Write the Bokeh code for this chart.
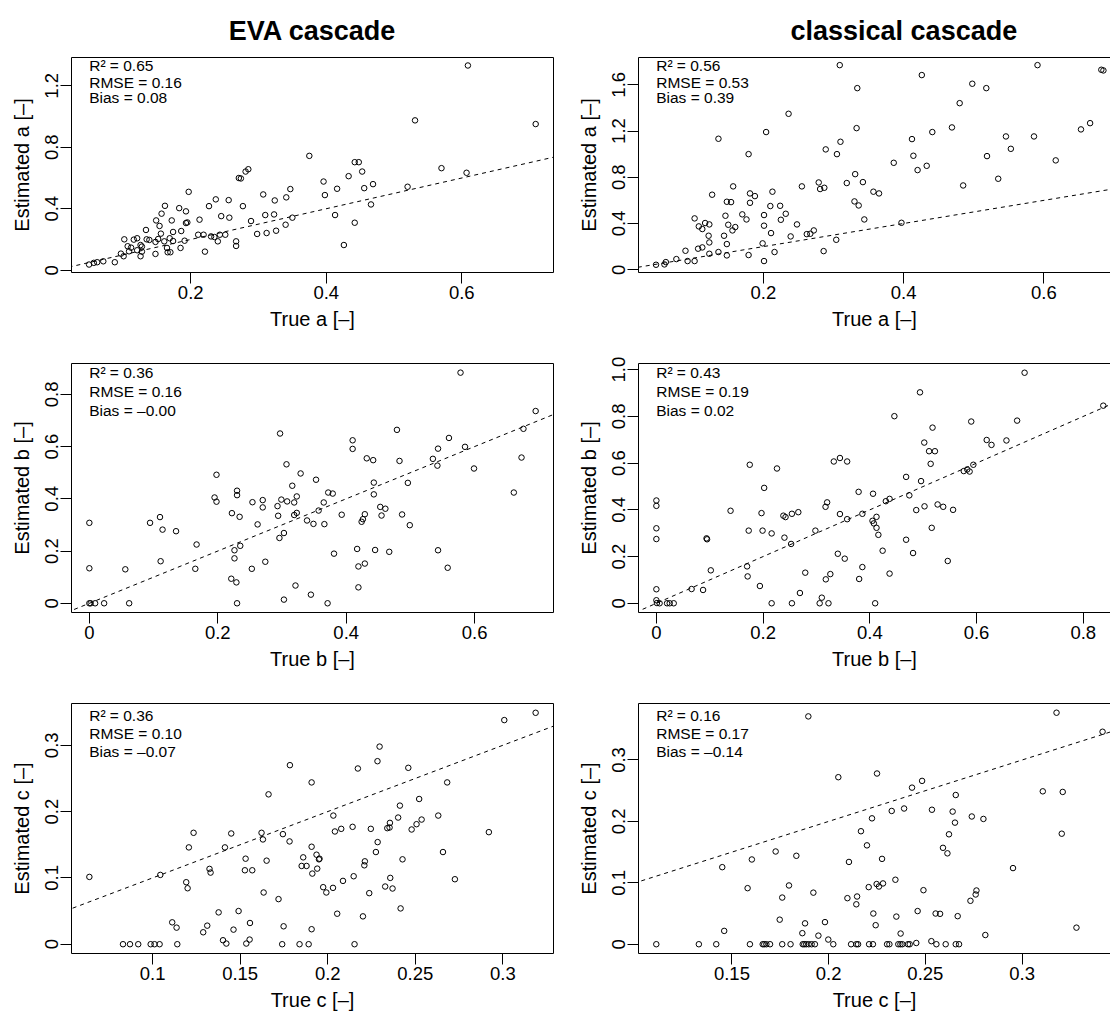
from bokeh.plotting import figure
from bokeh.models import Range1d, FixedTicker, LinearAxis, Slope, Label
from bokeh.layouts import column, row
from bokeh.embed import file_html
from bokeh.resources import INLINE

FONT = "Liberation Sans"

# ---------------- data ----------------
eva_a_true = [0.609, 0.531, 0.709, 0.375, 0.442, 0.448, 0.570, 0.607, 0.453, 0.433, 0.396, 0.469, 0.456, 0.416,
              0.398, 0.520, 0.466, 0.413, 0.442, 0.426, 0.271, 0.274, 0.281, 0.285, 0.197, 0.307, 0.347, 0.341,
              0.324, 0.256, 0.237, 0.227, 0.277, 0.162, 0.183, 0.193, 0.157, 0.245, 0.257, 0.310, 0.323, 0.350,
              0.289, 0.340, 0.326, 0.312, 0.298, 0.213, 0.172, 0.149, 0.193, 0.195, 0.134, 0.154, 0.186, 0.174,
              0.156, 0.211, 0.219, 0.230, 0.235, 0.243, 0.251, 0.240, 0.267, 0.267, 0.191, 0.169, 0.174, 0.161,
              0.148, 0.152, 0.135, 0.139, 0.102, 0.121, 0.116, 0.126, 0.128, 0.107, 0.112, 0.121, 0.128, 0.109,
              0.097, 0.101, 0.126, 0.148, 0.165, 0.166, 0.170, 0.185, 0.221, 0.088, 0.071, 0.062, 0.057, 0.050]
eva_a_est = [1.332, 0.975, 0.951, 0.744, 0.703, 0.703, 0.664, 0.634, 0.642, 0.612, 0.577, 0.560, 0.534, 0.530,
             0.489, 0.543, 0.428, 0.359, 0.309, 0.164, 0.600, 0.597, 0.642, 0.657, 0.510, 0.493, 0.528, 0.474,
             0.454, 0.456, 0.461, 0.417, 0.417, 0.419, 0.404, 0.383, 0.368, 0.352, 0.342, 0.359, 0.363, 0.342,
             0.320, 0.296, 0.257, 0.242, 0.236, 0.329, 0.324, 0.324, 0.307, 0.311, 0.262, 0.288, 0.255, 0.249,
             0.238, 0.231, 0.231, 0.220, 0.216, 0.231, 0.231, 0.188, 0.188, 0.158, 0.192, 0.208, 0.190, 0.188,
             0.184, 0.203, 0.201, 0.197, 0.201, 0.208, 0.199, 0.164, 0.154, 0.156, 0.147, 0.130, 0.121, 0.123,
             0.108, 0.091, 0.091, 0.106, 0.145, 0.117, 0.117, 0.145, 0.121, 0.052, 0.058, 0.052, 0.048, 0.037]

cla_a_true = [0.309, 0.591, 0.682, 0.685, 0.426, 0.498, 0.334, 0.518, 0.480, 0.236, 0.666, 0.653, 0.333, 0.469,
              0.204, 0.441, 0.136, 0.546, 0.586, 0.412, 0.310, 0.553, 0.289, 0.414, 0.519, 0.305, 0.179, 0.617,
              0.386, 0.433, 0.420, 0.535, 0.485, 0.331, 0.342, 0.319, 0.279, 0.281, 0.287, 0.255, 0.157, 0.357,
              0.365, 0.213, 0.127, 0.181, 0.188, 0.148, 0.154, 0.181, 0.330, 0.336, 0.210, 0.224, 0.170, 0.232,
              0.201, 0.146, 0.176, 0.225, 0.102, 0.344, 0.123, 0.117, 0.108, 0.113, 0.150, 0.160, 0.156, 0.201,
              0.248, 0.144, 0.122, 0.211, 0.239, 0.262, 0.267, 0.272, 0.123, 0.148, 0.199, 0.107, 0.113, 0.089,
              0.304, 0.286, 0.216, 0.136, 0.123, 0.148, 0.179, 0.397, 0.092, 0.102, 0.076, 0.061, 0.059, 0.047,
              0.201]
cla_a_est = [1.770, 1.770, 1.730, 1.724, 1.684, 1.609, 1.571, 1.571, 1.441, 1.349, 1.268, 1.214, 1.225, 1.231,
             1.191, 1.191, 1.133, 1.153, 1.153, 1.130, 1.107, 1.046, 1.041, 0.986, 0.983, 1.000, 1.000, 0.946,
             0.925, 0.899, 0.862, 0.787, 0.729, 0.827, 0.758, 0.750, 0.755, 0.698, 0.709, 0.721, 0.721, 0.675,
             0.660, 0.675, 0.649, 0.660, 0.637, 0.588, 0.585, 0.579, 0.591, 0.556, 0.551, 0.553, 0.479, 0.484,
             0.473, 0.467, 0.435, 0.432, 0.444, 0.435, 0.392, 0.404, 0.375, 0.352, 0.389, 0.369, 0.340, 0.381,
             0.392, 0.294, 0.294, 0.317, 0.288, 0.308, 0.311, 0.340, 0.236, 0.222, 0.228, 0.182, 0.193, 0.164,
             0.259, 0.161, 0.153, 0.153, 0.138, 0.124, 0.127, 0.406, 0.075, 0.075, 0.092, 0.066, 0.046, 0.043,
             0.075]

eva_b_true = [0.578, 0.695, 0.676, 0.673, 0.661, 0.599, 0.585, 0.560, 0.543, 0.535, 0.542, 0.479, 0.483, 0.496,
              0.410, 0.410, 0.432, 0.442, 0.443, 0.443, 0.453, 0.461, 0.455, 0.487, 0.499, 0.429, 0.426, 0.424,
              0.393, 0.543, 0.558, 0.417, 0.445, 0.467, 0.429, 0.419, 0.419, 0.381, 0.371, 0.353, 0.329, 0.307,
              0.297, 0.316, 0.323, 0.319, 0.308, 0.299, 0.293, 0.323, 0.319, 0.294, 0.339, 0.349, 0.357, 0.365,
              0.372, 0.379, 0.366, 0.303, 0.296, 0.274, 0.253, 0.262, 0.270, 0.270, 0.254, 0.230, 0.230, 0.234,
              0.222, 0.198, 0.195, 0.198, 0.235, 0.226, 0.226, 0.221, 0.229, 0.230, 0.321, 0.303, 0.345, 0.110,
              0.0945, 0.114, 0.135, 0.167, 0.165, 0.111, 0.056, 0.062, 0.023, 0.009, 0.000, 0.002, 0.000, 0.000]
eva_b_est = [0.883, 0.736, 0.668, 0.558, 0.424, 0.516, 0.599, 0.633, 0.592, 0.553, 0.527, 0.664, 0.545, 0.461,
             0.624, 0.591, 0.555, 0.548, 0.462, 0.417, 0.369, 0.362, 0.336, 0.340, 0.299, 0.341, 0.322, 0.312,
             0.339, 0.203, 0.136, 0.208, 0.204, 0.197, 0.152, 0.141, 0.061, 0.190, 0.000, 0.473, 0.497, 0.532,
             0.650, 0.450, 0.409, 0.386, 0.390, 0.397, 0.372, 0.346, 0.338, 0.335, 0.317, 0.304, 0.355, 0.386,
             0.424, 0.420, 0.303, 0.269, 0.250, 0.159, 0.132, 0.302, 0.395, 0.367, 0.387, 0.431, 0.414, 0.331,
             0.345, 0.492, 0.405, 0.389, 0.220, 0.203, 0.172, 0.094, 0.080, 0.000, 0.068, 0.014, 0.033, 0.330,
             0.308, 0.282, 0.276, 0.225, 0.132, 0.161, 0.130, 0.000, 0.000, 0.000, 0.000, 0.000, 0.308, 0.134]

cla_b_true = [0.690, 0.494, 0.446, 0.8375, 0.676, 0.590, 0.5175, 0.619, 0.628, 0.656, 0.502, 0.511, 0.522, 0.514,
              0.594, 0.576, 0.5825, 0.587, 0.468, 0.496, 0.474, 0.5025, 0.487, 0.527, 0.5375, 0.556, 0.516, 0.546,
              0.468, 0.481, 0.437, 0.430, 0.437, 0.406, 0.379, 0.386, 0.3575, 0.344, 0.3325, 0.344, 0.3575, 0.320,
              0.317, 0.4125, 0.405, 0.4075, 0.4125, 0.416, 0.424, 0.386, 0.380, 0.410, 0.340, 0.353, 0.326, 0.3175,
              0.310, 0.306, 0.3225, 0.298, 0.279, 0.269, 0.254, 0.216, 0.266, 0.254, 0.238, 0.242, 0.2525, 0.240,
              0.216, 0.199, 0.197, 0.202, 0.226, 0.175, 0.173, 0.139, 0.170, 0.171, 0.194, 0.102, 0.094, 0.095,
              0.0875, 0.066, 0.000, 0.000, 0.000, 0.000, 0.000, 0.000, 0.001, 0.006, 0.020, 0.025, 0.0325]
cla_b_est = [0.987, 0.903, 0.801, 0.846, 0.782, 0.778, 0.752, 0.699, 0.678, 0.697, 0.688, 0.651, 0.651, 0.597,
             0.593, 0.566, 0.573, 0.564, 0.541, 0.523, 0.462, 0.415, 0.399, 0.423, 0.413, 0.400, 0.323, 0.181,
             0.272, 0.215, 0.127, 0.437, 0.447, 0.469, 0.477, 0.383, 0.360, 0.382, 0.607, 0.622, 0.607, 0.432,
             0.413, 0.370, 0.353, 0.342, 0.323, 0.293, 0.225, 0.155, 0.104, 0.000, 0.212, 0.191, 0.125, 0.1025,
             0.024, 0.000, 0.000, 0.311, 0.131, 0.044, 0.000, 0.000, 0.390, 0.383, 0.375, 0.369, 0.254, 0.281,
             0.299, 0.311, 0.386, 0.494, 0.577, 0.593, 0.311, 0.396, 0.158, 0.115, 0.074, 0.141, 0.278, 0.274,
             0.057, 0.061, 0.440, 0.417, 0.321, 0.275, 0.060, 0.013, 0.001, 0.000, 0.000, 0.000, 0.000]

eva_c_true = [0.3187, 0.3008, 0.2296, 0.2284, 0.2460, 0.2172, 0.1784, 0.1908, 0.2682, 0.1662, 0.2522, 0.2412,
              0.2032, 0.2402, 0.2355, 0.2340, 0.2353, 0.2631, 0.2507, 0.2536, 0.2479, 0.2920, 0.2142, 0.2246,
              0.2041, 0.2077, 0.2285, 0.2275, 0.2658, 0.2427, 0.2212, 0.2209, 0.2148, 0.2087, 0.2357, 0.2328,
              0.2370, 0.2726, 0.2237, 0.2416, 0.2201, 0.2054, 0.2153, 0.1974, 0.1992, 0.2030, 0.1908, 0.1936,
              0.1953, 0.1950, 0.1860, 0.1851, 0.1879, 0.1940, 0.1912, 0.1782, 0.1744, 0.1622, 0.1630, 0.1449,
              0.1413, 0.1234, 0.1207, 0.1531, 0.1651, 0.1527, 0.1569, 0.1325, 0.1331, 0.1044, 0.0639, 0.1192,
              0.1200, 0.1634, 0.1719, 0.1377, 0.1491, 0.1112, 0.1137, 0.1312, 0.1289, 0.1462, 0.1556, 0.1748,
              0.1908, 0.1402, 0.1421, 0.1554, 0.1535, 0.1740, 0.1839, 0.1891, 0.0831, 0.0871, 0.0918, 0.0989,
              0.1011, 0.1040, 0.1141]
eva_c_est = [0.349, 0.338, 0.298, 0.276, 0.266, 0.265, 0.270, 0.244, 0.244, 0.226, 0.219, 0.209,
             0.194, 0.191, 0.183, 0.175, 0.176, 0.194, 0.181, 0.188, 0.173, 0.169, 0.177, 0.174,
             0.170, 0.174, 0.154, 0.139, 0.139, 0.128, 0.125, 0.119, 0.1025, 0.0955, 0.100, 0.087,
             0.084, 0.098, 0.077, 0.054, 0.042, 0.046, 0.000, 0.086, 0.078, 0.085, 0.147, 0.135,
             0.129, 0.128, 0.131, 0.118, 0.118, 0.114, 0.1065, 0.155, 0.166, 0.168, 0.158, 0.167,
             0.146, 0.168, 0.146, 0.129, 0.126, 0.1115, 0.1115, 0.1136, 0.108, 0.1045, 0.1015, 0.0935,
             0.0844, 0.078, 0.068, 0.048, 0.050, 0.033, 0.025, 0.028, 0.018, 0.022, 0.032, 0.027,
             0.0226, 0.006, 0.001, 0.007, 0.001, 0.000, 0.000, 0.000, 0.000, 0.000, 0.000, 0.000,
             0.000, 0.000, 0.000]

cla_c_true = [0.3178, 0.1895, 0.3416, 0.2050, 0.2250, 0.2431, 0.2483, 0.3107, 0.3210, 0.2657, 0.2326, 0.2390,
              0.2534, 0.2641, 0.2740, 0.2800, 0.2224, 0.2653, 0.2167, 0.2622, 0.3205, 0.2198, 0.2591, 0.2614,
              0.1726, 0.1833, 0.2276, 0.2105, 0.2953, 0.1450, 0.1603, 0.2345, 0.1795, 0.2248, 0.2281, 0.2260,
              0.2207, 0.1581, 0.1921, 0.2490, 0.2764, 0.2760, 0.2733, 0.1760, 0.2097, 0.2147, 0.2143, 0.2231,
              0.2350, 0.2460, 0.2553, 0.2576, 0.2667, 0.1747, 0.1878, 0.1981, 0.2243, 0.1460, 0.1864, 0.1947,
              0.1998, 0.2372, 0.2810, 0.3281, 0.2531, 0.2453,
              0.1109, 0.1329, 0.1419, 0.1593, 0.1659, 0.1667, 0.1678, 0.1697, 0.1760, 0.1803, 0.1866, 0.1874,
              0.1884, 0.1897, 0.1912, 0.1929, 0.2024, 0.2116, 0.2143, 0.2152, 0.2209, 0.2229, 0.2302, 0.2314,
              0.2360, 0.2371, 0.2381, 0.2410, 0.2419, 0.2557, 0.2605, 0.2657, 0.2674]
cla_c_est = [0.377, 0.371, 0.346, 0.272, 0.278, 0.255, 0.266, 0.249, 0.248, 0.243, 0.217, 0.221,
             0.219, 0.216, 0.208, 0.204, 0.205, 0.198, 0.184, 0.179, 0.180, 0.161, 0.157, 0.148,
             0.151, 0.144, 0.139, 0.134, 0.124, 0.1255, 0.138, 0.105, 0.0957, 0.098, 0.099, 0.094,
             0.093, 0.0913, 0.084, 0.088, 0.0875, 0.081, 0.0707, 0.076, 0.075, 0.0777, 0.065, 0.050,
             0.045, 0.054, 0.050, 0.0495, 0.0457, 0.040, 0.034, 0.036, 0.031, 0.0217, 0.018, 0.014,
             0.0076, 0.0174, 0.015, 0.027, 0.005, 0.002,
             0.0, 0.0, 0.0, 0.0, 0.0, 0.0, 0.0, 0.0, 0.0, 0.0, 0.0, 0.0,
             0.0, 0.0, 0.0, 0.0, 0.0, 0.0, 0.0, 0.0, 0.0, 0.0, 0.0, 0.0,
             0.0, 0.0, 0.0, 0.0, 0.0, 0.0, 0.0, 0.0, 0.0]

column_titles = ["EVA cascade", "classical cascade"]
x_titles = ["True a [–]", "True b [–]", "True c [–]"]
y_titles = ["Estimated a [–]", "Estimated b [–]", "Estimated c [–]"]

stats_eva = [["R² = 0.65", "RMSE = 0.16", "Bias = 0.08"],
             ["R² = 0.36", "RMSE = 0.16", "Bias = –0.00"],
             ["R² = 0.36", "RMSE = 0.10", "Bias = –0.07"]]
stats_cla = [["R² = 0.56", "RMSE = 0.53", "Bias = 0.39"],
             ["R² = 0.43", "RMSE = 0.19", "Bias = 0.02"],
             ["R² = 0.16", "RMSE = 0.17", "Bias = –0.14"]]

xticks_eva = [[0.2, 0.4, 0.6], [0, 0.2, 0.4, 0.6], [0.1, 0.15, 0.2, 0.25, 0.3]]
xlabels_eva = [["0.2", "0.4", "0.6"], ["0", "0.2", "0.4", "0.6"], ["0.1", "0.15", "0.2", "0.25", "0.3"]]
xticks_cla = [[0.2, 0.4, 0.6], [0, 0.2, 0.4, 0.6, 0.8], [0.15, 0.2, 0.25, 0.3]]
xlabels_cla = [["0.2", "0.4", "0.6"], ["0", "0.2", "0.4", "0.6", "0.8"], ["0.15", "0.2", "0.25", "0.3"]]
yticks_eva = [[0, 0.4, 0.8, 1.2], [0, 0.2, 0.4, 0.6, 0.8], [0, 0.1, 0.2, 0.3]]
ylabels_eva = [["0", "0.4", "0.8", "1.2"], ["0", "0.2", "0.4", "0.6", "0.8"], ["0", "0.1", "0.2", "0.3"]]
yticks_cla = [[0, 0.4, 0.8, 1.2, 1.6], [0, 0.2, 0.4, 0.6, 0.8, 1.0], [0, 0.1, 0.2, 0.3]]
ylabels_cla = [["0", "0.4", "0.8", "1.2", "1.6"], ["0", "0.2", "0.4", "0.6", "0.8", "1.0"], ["0", "0.1", "0.2", "0.3"]]

# axis ranges (R style, 4% padding; right column cropped at the page edge)
xr_eva = [(0.0241, 0.7353), (-0.0278, 0.7228), (0.0537, 0.3289)]
yr_eva = [(-0.0148, 1.384), (-0.0353, 0.918), (-0.0140, 0.363)]
xr_cla = [(0.022, 0.6951), (-0.0335, 0.851), (0.1017, 0.3457)]
yr_cla = [(-0.024, 1.836), (-0.0395, 1.0265), (-0.0151, 0.392)]

# ---------------- layout ----------------
frame_h = [215, 249, 250]
border_top = [57, 19, 19]
border_bottom = [72, 72, 62]
text_off = [[8.3, 25, 40], [9, 28.4, 46.7], [11.5, 29.7, 47.7]]


def line_axis(**kw):
    return LinearAxis(ticker=FixedTicker(ticks=[]), major_tick_out=0, major_tick_in=0,
                      minor_tick_out=0, minor_tick_in=0, major_label_standoff=0,
                      axis_label_standoff=0, axis_line_color="black", axis_line_width=1,
                      major_label_text_font_size="0px", **kw)


def panel(xs, ys, xr, yr, xt, xl, yt, yl, xtitle, ytitle, stats, r, left_col, title=None,
          title_align="center", title_offset=0):
    fw = 482 if left_col else 472
    p = figure(frame_width=fw, frame_height=frame_h[r],
               x_range=Range1d(*xr), y_range=Range1d(*yr),
               output_backend="svg", toolbar_location=None, tools="",
               min_border_left=71, min_border_right=14 if left_col else 0,
               min_border_top=border_top[r], min_border_bottom=border_bottom[r],
               background_fill_color="white", border_fill_color="white")
    p.outline_line_color = None
    p.xgrid.grid_line_color = None
    p.ygrid.grid_line_color = None

    xa = p.below[0]
    xa.ticker = FixedTicker(ticks=xt)
    xa.major_label_overrides = {t: s for t, s in zip(xt, xl)}
    ya = p.left[0]
    ya.ticker = FixedTicker(ticks=yt)
    ya.major_label_overrides = {t: s for t, s in zip(yt, yl)}
    ya.major_label_orientation = "vertical"
    for ax, lab, ls, als in ((xa, xtitle, 2, 6), (ya, ytitle, 2, 10)):
        ax.axis_label = lab
        ax.axis_line_color = "black"
        ax.axis_line_width = 1
        ax.major_tick_line_color = "black"
        ax.major_tick_out = 11
        ax.major_tick_in = 0
        ax.minor_tick_out = 0
        ax.minor_tick_in = 0
        ax.major_label_text_font = FONT
        ax.major_label_text_font_size = "18.5px"
        ax.major_label_text_color = "black"
        ax.major_label_standoff = ls
        ax.axis_label_text_font = FONT
        ax.axis_label_text_font_size = "20px"
        ax.axis_label_text_font_style = "normal"
        ax.axis_label_text_color = "black"
        ax.axis_label_standoff = als

    p.add_layout(line_axis(), "above")
    if left_col:
        p.add_layout(line_axis(), "right")

    p.add_layout(Slope(gradient=1, y_intercept=0, line_color="black", line_width=1, line_dash="4 4"))
    p.scatter(xs, ys, marker="circle", size=5.5, fill_color=None, line_color="black", line_width=1)

    for txt, off in zip(stats, text_off[r]):
        p.add_layout(Label(x=17.7, y=frame_h[r] - off, x_units="screen", y_units="screen", text=txt,
                           text_font=FONT, text_font_size="15.5px", text_color="black",
                           text_baseline="middle", text_align="left"))

    if title:
        p.title.text = title
        p.title.align = title_align
        p.title.text_font = FONT
        p.title.text_font_size = "27px"
        p.title.text_font_style = "bold"
        p.title.text_color = "black"
        p.title.offset = title_offset
        p.title.standoff = 24
    return p


data_eva = [(eva_a_true, eva_a_est), (eva_b_true, eva_b_est), (eva_c_true, eva_c_est)]
data_cla = [(cla_a_true, cla_a_est), (cla_b_true, cla_b_est), (cla_c_true, cla_c_est)]

rows = []
for r in range(3):
    pl = panel(data_eva[r][0], data_eva[r][1], xr_eva[r], yr_eva[r], xticks_eva[r], xlabels_eva[r],
               yticks_eva[r], ylabels_eva[r], x_titles[r], y_titles[r], stats_eva[r], r, True,
               title=column_titles[0] if r == 0 else None)
    pr = panel(data_cla[r][0], data_cla[r][1], xr_cla[r], yr_cla[r], xticks_cla[r], xlabels_cla[r],
               yticks_cla[r], ylabels_cla[r], x_titles[r], y_titles[r], stats_cla[r], r, False,
               title=column_titles[1] if r == 0 else None, title_align="left", title_offset=152)
    rows.append(row(pl, pr, spacing=0))

layout = column(*rows, spacing=0)
open("out.html", "w").write(file_html(layout, INLINE))
